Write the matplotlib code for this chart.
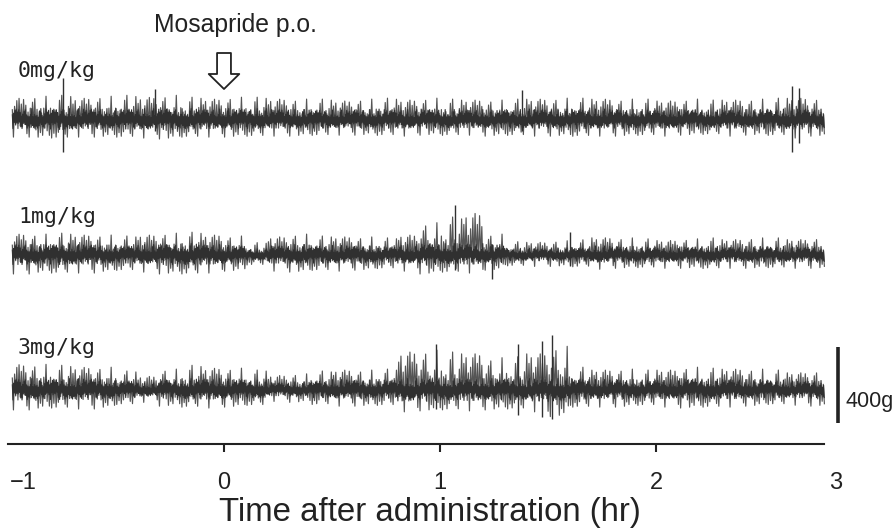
import numpy as np
import matplotlib.pyplot as plt

plt.rcParams['font.family'] = ['Liberation Sans', 'DejaVu Sans']

# 腹圧の振れ幅 (g)，-1 hr から 0.1 hr ごとの上側/下側の包絡
doses = ['0mg/kg', '1mg/kg', '3mg/kg']
bin_start, bin_width = -1.0, 0.1
t_begin, t_end = -0.98, 2.78

up_0 = [120, 125, 130, 120, 125, 130, 125, 130, 120, 115,
        120, 120, 115, 110, 110, 105, 110, 115, 110, 115,
        110, 110, 105, 110, 115, 115, 115, 115, 110, 110,
        105, 110, 105, 110, 110, 115, 120, 115]
dn_0 = [90, 95, 100, 90, 90, 95, 95, 100, 95, 90,
        90, 90, 85, 85, 85, 80, 80, 85, 85, 80,
        85, 80, 85, 85, 85, 85, 90, 85, 85, 85,
        85, 80, 80, 85, 80, 85, 95, 85]
up_1 = [115, 110, 115, 110, 105, 100, 110, 115, 120, 110,
        100, 65, 100, 110, 100, 100, 95, 90, 110, 170,
        200, 230, 110, 70, 70, 75, 80, 95, 90, 85,
        80, 85, 90, 85, 90, 90, 85, 90]
dn_1 = [100, 95, 100, 95, 90, 85, 90, 100, 105, 95,
        85, 55, 85, 90, 85, 85, 80, 75, 85, 100,
        95, 95, 80, 60, 60, 60, 65, 75, 70, 70,
        70, 70, 75, 70, 70, 70, 70, 70]
up_3 = [140, 135, 130, 125, 120, 100, 75, 110, 130, 120,
        115, 105, 80, 85, 100, 110, 105, 110, 210, 210,
        200, 200, 170, 175, 200, 230, 120, 110, 110, 105,
        110, 120, 115, 115, 110, 105, 95, 100]
dn_3 = [105, 100, 100, 100, 95, 80, 65, 85, 95, 95,
        90, 85, 60, 65, 80, 85, 85, 85, 115, 110,
        110, 110, 105, 105, 115, 140, 95, 90, 90, 85,
        90, 95, 95, 90, 85, 80, 80, 85]

# 目立つ単発の振れ (時刻 hr, 上 g, 下 g)
spikes_0 = [(-0.745, 220, 170), (-0.32, 165, 60), (1.38, 160, 60),
            (2.63, 180, 170), (2.66, 170, 120)]
spikes_1 = [(1.07, 265, 80), (1.24, 60, 125), (1.60, 120, 60)]
spikes_3 = [(0.98, 240, 100), (1.36, 240, 130), (1.47, 260, 140),
            (1.52, 290, 150)]

# 振れの細かい凹凸（包絡に対する比率）
ripple = [0.45, 1.0, 0.6, 0.3, 0.85, 0.5, 0.95, 0.35, 0.7, 0.4,
          0.9, 0.25, 0.65, 0.8, 0.35, 1.0, 0.5, 0.4, 0.75, 0.3,
          0.9, 0.55, 0.45, 0.95, 0.35, 0.7, 0.3, 0.85, 0.5]

tick_pos = [-0.93, 0, 1, 2, 2.83]
tick_labels = ['\u22121', '0', '1', '2', '3']
scale_g = 400

G_PER_PX = 400 / 76.0
baselines = [(444 - 120) * G_PER_PX, (444 - 255) * G_PER_PX, (444 - 390) * G_PER_PX]
label_y = [(444 - 77) * G_PER_PX, (444 - 223) * G_PER_PX, (444 - 354) * G_PER_PX]
core_color = '#303030'
spike_color = '#555555'


def trace(up, dn, step, scale, cap):
    ts = np.arange(t_begin, t_end, step)
    idx = np.clip(((ts - bin_start) / bin_width).astype(int), 0, len(up) - 1)
    rip = np.array(ripple)[np.arange(len(ts)) % len(ripple)]
    sign = np.where(np.arange(len(ts)) % 2 == 0, 1, -1)
    env = np.where(sign > 0, np.array(up)[idx], np.array(dn)[idx])
    return ts, sign * np.minimum(env, cap) * scale * rip


fig = plt.figure(figsize=(8.94, 5.28), dpi=100)
ax = fig.add_axes([8 / 894, 84 / 528, 864 / 894, 444 / 528])
ax.set_xlim(-1, 3)
ax.set_ylim(0, 444 * G_PER_PX)

for name, up, dn, spk, base, ly in zip(doses, [up_0, up_1, up_3], [dn_0, dn_1, dn_3],
                                       [spikes_0, spikes_1, spikes_3], baselines, label_y):
    # 疎らな大きい振れ
    ts, y = trace(up, dn, 0.0052, 1.0, 1000)
    ax.plot(ts, base + y, color=spike_color, lw=0.85)
    # 密な小さい振れ
    ts, y = trace(up, dn, 0.003, 0.5, 120)
    ax.plot(ts, base + y, color=core_color, lw=0.8)
    for t, a, b in spk:
        ax.vlines(t, base - b, base + a, color=core_color, lw=1.0)
    ax.text(-0.954, ly, name, fontsize=15.5, family=['DejaVu Sans Mono'],
            va='baseline', ha='left', color='#222222')

# 投与の矢印
ax.annotate('', xy=(0, (444 - 89) * G_PER_PX), xytext=(0, (444 - 53) * G_PER_PX),
            arrowprops=dict(arrowstyle='simple,head_length=1.08,head_width=2.2,tail_width=1.0',
                            fc='white', ec='#222222', lw=1.3, mutation_scale=10,
                            shrinkA=0, shrinkB=0))
ax.text(0.051, (444 - 32) * G_PER_PX, 'Mosapride p.o.', fontsize=17.8,
        ha='center', va='baseline', color='#222222')

# スケールバー
sb_x, sb_y0 = 2.843, (444 - 423) * G_PER_PX
ax.plot([sb_x, sb_x], [sb_y0, sb_y0 + scale_g], color='#222222', lw=2.6,
        solid_capstyle='butt')
ax.text(2.875, (444 - 407) * G_PER_PX, f'{scale_g}g', fontsize=15.5,
        ha='left', va='baseline', color='#222222')

for s in ['top', 'left', 'right']:
    ax.spines[s].set_visible(False)
ax.spines['bottom'].set_bounds(-1, 2.78)
ax.spines['bottom'].set_linewidth(1.5)
ax.spines['bottom'].set_color('#222222')
ax.set_yticks([])
ax.set_xticks(tick_pos, tick_labels)
ax.tick_params(axis='x', length=6, width=1.5, color='#222222', pad=14,
               labelsize=17, labelcolor='#222222')
majors = ax.xaxis.get_major_ticks()
majors[0].tick1line.set_visible(False)
majors[-1].tick1line.set_visible(False)

fig.text(430 / 894, 7 / 528, 'Time after administration (hr)', fontsize=23.8,
         ha='center', va='baseline', color='#222222')

fig.savefig('out.png', dpi=100)
